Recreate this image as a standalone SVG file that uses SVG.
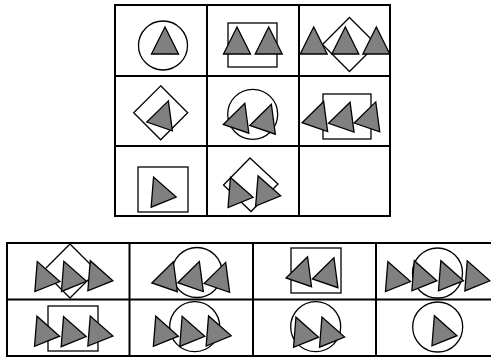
<svg xmlns="http://www.w3.org/2000/svg" xmlns:xlink="http://www.w3.org/1999/xlink" width="491" height="358" viewBox="0 0 491 358">
<style>
.grid{fill:none;stroke:#000;stroke-width:2}
.ol{fill:none;stroke:#000;stroke-width:1.3}
.tri{fill:#808080;stroke:#000;stroke-width:1.3;stroke-linejoin:miter}
</style>
<defs>
<polygon id="t" class="tri" points="0,-18 -13.5,9 13.5,9"/>
</defs>
<rect width="491" height="358" fill="#fff"/>
<g id="matrix-grid">
<rect class="grid" x="115" y="5" width="275" height="211"/>
<line class="grid" x1="207" y1="5" x2="207" y2="216"/>
<line class="grid" x1="299" y1="5" x2="299" y2="216"/>
<line class="grid" x1="115" y1="76" x2="390" y2="76"/>
<line class="grid" x1="115" y1="146" x2="390" y2="146"/>
</g>
<g id="options-grid">
<rect class="grid" x="7" y="243" width="486" height="113"/>
<line class="grid" x1="129.5" y1="243" x2="129.5" y2="356"/>
<line class="grid" x1="253" y1="243" x2="253" y2="356"/>
<line class="grid" x1="376" y1="243" x2="376" y2="356"/>
<line class="grid" x1="7" y1="299.5" x2="491" y2="299.5"/>
</g>
<g id="cell-1-1">
<circle class="ol" cx="163" cy="45.5" r="24.5"/>
<use xlink:href="#t" href="#t" transform="translate(165,45)"/>
</g>
<g id="cell-1-2">
<rect class="ol" x="228" y="23" width="49" height="44"/>
<use xlink:href="#t" href="#t" transform="translate(237,45)"/>
<use xlink:href="#t" href="#t" transform="translate(268.7,45)"/>
</g>
<g id="cell-1-3">
<polygon class="ol" points="349.5,17.5 376.5,44.5 349.5,71.5 322.5,44.5"/>
<use xlink:href="#t" href="#t" transform="translate(313.7,45)"/>
<use xlink:href="#t" href="#t" transform="translate(345.3,45)"/>
<use xlink:href="#t" href="#t" transform="translate(376.3,45)"/>
</g>
<g id="cell-2-1">
<polygon class="ol" points="160.7,85.8 187.7,112.8 160.7,139.8 133.7,112.8"/>
<use xlink:href="#t" href="#t" transform="translate(162.5,117.9) rotate(19)"/>
</g>
<g id="cell-2-2">
<circle class="ol" cx="252.7" cy="114.3" r="25"/>
<use xlink:href="#t" href="#t" transform="translate(239,120.3) rotate(19)"/>
<use xlink:href="#t" href="#t" transform="translate(265.5,121.3) rotate(19)"/>
</g>
<g id="cell-2-3">
<rect class="ol" x="323" y="94" width="48" height="45"/>
<use xlink:href="#t" href="#t" transform="translate(317.8,118.6) rotate(19)"/>
<use xlink:href="#t" href="#t" transform="translate(344.2,119.2) rotate(19)"/>
<use xlink:href="#t" href="#t" transform="translate(369.9,118.9) rotate(19)"/>
</g>
<g id="cell-3-1">
<rect class="ol" x="138" y="167" width="50" height="45"/>
<use xlink:href="#t" href="#t" transform="translate(160.3,193.8) rotate(-22)"/>
</g>
<g id="cell-3-2">
<polygon class="ol" points="250,158 278,184 251,211.5 223.5,185"/>
<use xlink:href="#t" href="#t" transform="translate(237.2,194.1) rotate(-22)"/>
<use xlink:href="#t" href="#t" transform="translate(264.8,192.6) rotate(-22)"/>
</g>
<g id="cell-3-3"></g>
<g id="option-1">
<polygon class="ol" points="70,244 97,271 70,298 43,271"/>
<use xlink:href="#t" href="#t" transform="translate(44,278.2) rotate(-22)"/>
<use xlink:href="#t" href="#t" transform="translate(70.6,278) rotate(-22)"/>
<use xlink:href="#t" href="#t" transform="translate(97,277.4) rotate(-22)"/>
</g>
<g id="option-2">
<circle class="ol" cx="197" cy="272.5" r="25"/>
<use xlink:href="#t" href="#t" transform="translate(167.5,278.8) rotate(19)"/>
<use xlink:href="#t" href="#t" transform="translate(193.5,278.6) rotate(19)"/>
<use xlink:href="#t" href="#t" transform="translate(219.8,279.4) rotate(19)"/>
</g>
<g id="option-3">
<rect class="ol" x="291" y="248" width="50" height="45"/>
<use xlink:href="#t" href="#t" transform="translate(301.7,273.8) rotate(19)"/>
<use xlink:href="#t" href="#t" transform="translate(328.1,274.8) rotate(19)"/>
</g>
<g id="option-4">
<circle class="ol" cx="437.5" cy="273" r="25"/>
<use xlink:href="#t" href="#t" transform="translate(394.6,278.2) rotate(-22)"/>
<use xlink:href="#t" href="#t" transform="translate(421,277.4) rotate(-22)"/>
<use xlink:href="#t" href="#t" transform="translate(447.6,277.4) rotate(-22)"/>
<use xlink:href="#t" href="#t" transform="translate(474,277.5) rotate(-22)"/>
</g>
<g id="option-5">
<rect class="ol" x="48" y="306" width="50" height="45"/>
<use xlink:href="#t" href="#t" transform="translate(43.7,332.9) rotate(-22)"/>
<use xlink:href="#t" href="#t" transform="translate(70.3,333.3) rotate(-22)"/>
<use xlink:href="#t" href="#t" transform="translate(97,332.7) rotate(-22)"/>
</g>
<g id="option-6">
<circle class="ol" cx="194.7" cy="326.7" r="25"/>
<use xlink:href="#t" href="#t" transform="translate(162.5,332.9) rotate(-22)"/>
<use xlink:href="#t" href="#t" transform="translate(188.9,333) rotate(-22)"/>
<use xlink:href="#t" href="#t" transform="translate(215.3,332.6) rotate(-22)"/>
</g>
<g id="option-7">
<circle class="ol" cx="315.7" cy="326.7" r="25"/>
<use xlink:href="#t" href="#t" transform="translate(302.7,333.9) rotate(-22)"/>
<use xlink:href="#t" href="#t" transform="translate(328.7,333.8) rotate(-22)"/>
</g>
<g id="option-8">
<circle class="ol" cx="437.7" cy="327" r="25"/>
<use xlink:href="#t" href="#t" transform="translate(441.1,332.4) rotate(-22)"/>
</g>
<g id="connectors"></g>
</svg>
